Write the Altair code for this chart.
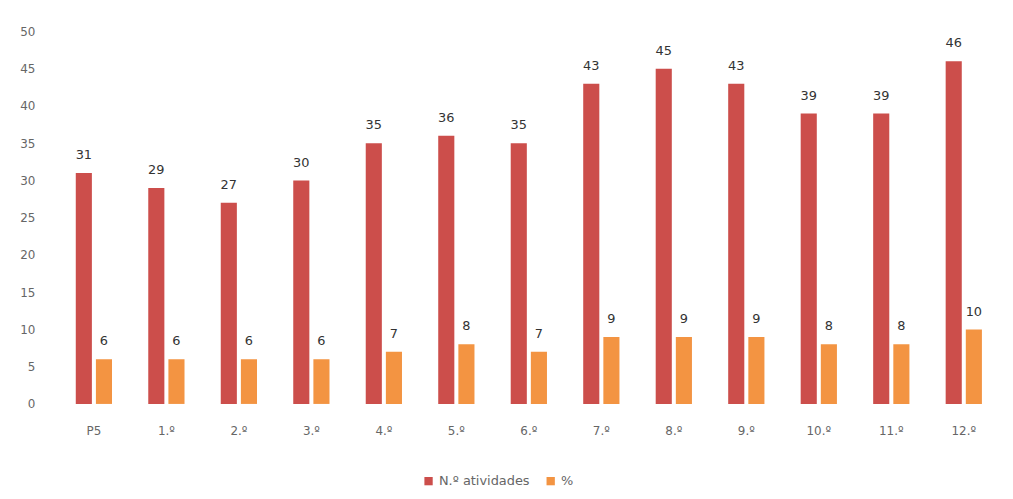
import altair as alt
import pandas as pd

categories = ["P5", "1.º", "2.º", "3.º", "4.º", "5.º", "6.º", "7.º", "8.º", "9.º", "10.º", "11.º", "12.º"]
atividades = [31, 29, 27, 30, 35, 36, 35, 43, 45, 43, 39, 39, 46]
percent = [6, 6, 6, 6, 7, 8, 7, 9, 9, 9, 8, 8, 10]
series = ["N.º atividades", "%"]

rows = []
for c, a, p in zip(categories, atividades, percent):
    rows.append({"cat": c, "serie": series[0], "valor": a})
    rows.append({"cat": c, "serie": series[1], "valor": p})
df = pd.DataFrame(rows)

x = alt.X("cat:N", sort=categories, title=None,
          scale=alt.Scale(paddingInner=0.5, paddingOuter=0.25),
          axis=alt.Axis(labelAngle=0, domain=False, ticks=False, labelPadding=22,
                        labelFontSize=12, labelColor="#666666", labelFont="DejaVu Sans"))
xo = alt.XOffset("serie:N", sort=series, scale=alt.Scale(paddingInner=0.2))
y = alt.Y("valor:Q", title=None,
          scale=alt.Scale(domain=[0, 50]),
          axis=alt.Axis(values=list(range(0, 51, 5)), domain=False, ticks=False, grid=False,
                        labelPadding=23, labelFontSize=12, labelColor="#666666", labelFont="DejaVu Sans"))
color = alt.Color("serie:N", sort=series,
                  scale=alt.Scale(domain=series, range=["#cc4e4b", "#f39442"]),
                  legend=alt.Legend(title=None, orient="none", direction="horizontal",
                                    legendX=367, legendY=446, symbolType="square",
                                    symbolSize=70, labelFontSize=13, labelColor="#666666",
                                    columnPadding=14, labelFont="DejaVu Sans"))

base = alt.Chart(df)
bars = base.mark_bar().encode(x=x, xOffset=xo, y=y, color=color)
labels = base.mark_text(dy=-18, fontSize=13, color="#333333", font="DejaVu Sans").encode(
    x=x, xOffset=xo, y=y, text="valor:Q")

chart = (bars + labels).properties(
    width=949, height=375,
    autosize=alt.AutoSizeParams(type="none"),
    padding={"left": 50, "top": 22, "right": 5, "bottom": 90},
    background="#ffffff",
).configure_view(stroke=None)

chart.save("out.html", embed_options={"renderer": "svg", "actions": False})
